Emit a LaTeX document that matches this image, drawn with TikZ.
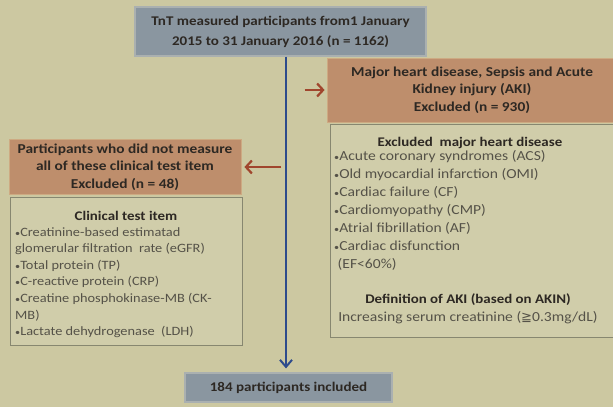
\documentclass[tikz,border=0pt]{standalone}
\usepackage{fontspec}
\setmainfont{Carlito}[FakeStretch=1.13]
\newfontfamily\symfont{DejaVu Sans}
\usetikzlibrary{arrows.meta}
\definecolor{bgkhaki}{RGB}{204,200,161}
\definecolor{slatefill}{RGB}{138,150,160}
\definecolor{slateedge}{RGB}{170,176,176}
\definecolor{tanfill}{RGB}{190,142,108}
\definecolor{tanedge}{RGB}{205,170,130}
\definecolor{listedge}{RGB}{135,135,112}
\definecolor{listfill}{RGB}{208,205,170}
\definecolor{inktext}{RGB}{45,40,35}
\definecolor{greytext}{RGB}{85,82,72}
\definecolor{spineblue}{RGB}{45,75,140}
\definecolor{rustarrow}{RGB}{160,70,45}
\newcommand{\itemdot}{{\fontsize{9}{9}\selectfont•}}
\tikzset{
  slatebox/.style={draw=slateedge, line width=1.2pt, fill=slatefill, text=inktext,
    font=\bfseries\fontsize{13.3}{20}\selectfont, align=center, inner sep=0pt},
  tanbox/.style={draw=tanedge, line width=0.8pt, fill=tanfill, text=inktext,
    font=\bfseries\fontsize{13.6}{17.5}\selectfont, align=center, inner sep=0pt},
  listbox/.style={draw=listedge, line width=0.9pt, fill=listfill, inner sep=0pt},
  listhead/.style={text=inktext, font=\bfseries\fontsize{13.2}{18}\selectfont, inner sep=0pt},
  listbody/.style={text=greytext, font=\fontsize{13.8}{18}\selectfont, align=left, inner sep=0pt, anchor=north west},
  spinearrow/.style={draw=spineblue, line width=2.2pt, -{Straight Barb[length=7pt,width=12pt,line width=2pt]}},
  rustarrowstyle/.style={draw=rustarrow, line width=2.4pt, -{Straight Barb[length=6pt,width=13pt,line width=2.2pt]}}
}
\begin{document}
\begin{tikzpicture}[x=1pt,y=-1pt]
  % canvas
  \fill[bgkhaki] (0,0) rectangle (613,407);
  \useasboundingbox (0,0) rectangle (613,407);

  % main flow boxes
  \node[slatebox, minimum width=291pt, minimum height=49pt] (start) at (280.5,31.5)
    {TnT measured participants from1 January\\2015 to 31 January 2016 (n = 1162)};
  \node[slatebox, minimum width=207pt, minimum height=29pt] (final) at (288.5,387.5)
    {184 participants included};

  % right exclusion
  \node[tanbox, minimum width=290pt, minimum height=64pt] (rexcl) at (472,90)
    {Major heart disease, Sepsis and Acute\\Kidney injury (AKI)\\Excluded (n = 930)};
  \node[listbox, minimum width=287pt, minimum height=213pt] (rlist) at (473.5,230.5) {};
  \node[listhead] (rhead) at (470,143) {Excluded\ \ major heart disease};
  \node[listbody] (ritems) at (334,150)
    {\itemdot Acute coronary syndromes (ACS)\\
     \itemdot Old myocardial infarction (OMI)\\
     \itemdot Cardiac failure (CF)\\
     \itemdot Cardiomyopathy (CMP)\\
     \itemdot Atrial fibrillation (AF)\\
     \itemdot Cardiac disfunction\\
     \ (EF<60\%)};
  \node[listhead] (akihead) at (468,300) {Definition of AKI (based on AKIN)};
  \node[listbody, anchor=center] (akidef) at (468,318)
    {Increasing serum creatinine ({\symfont\fontsize{13}{13}\selectfont ≧}0.3mg/dL)};

  % left exclusion
  \node[tanbox, minimum width=232pt, minimum height=55pt] (lexcl) at (125,167)
    {Participants who did not measure\\all of these clinical test item\\Excluded (n = 48)};
  \node[listbox, minimum width=232pt, minimum height=148pt] (llist) at (126,271) {};
  \node[listhead] (lhead) at (126,216) {Clinical test item};
  \node[listbody, font=\fontsize{12.7}{16.6}\selectfont] (litems) at (15,227)
    {\itemdot Creatinine-based estimatad\\
     glomerular filtration\ \ rate (eGFR)\\
     \itemdot Total protein (TP)\\
     \itemdot C-reactive protein (CRP)\\
     \itemdot Creatine phosphokinase-MB (CK-\\
     MB)\\
     \itemdot Lactate dehydrogenase\ \ (LDH)};

  % connectors
  \coordinate (spine) at (286,0);
  \draw[spinearrow, shorten >=4pt] (start.south -| spine) -- (final.north -| spine);
  \draw[rustarrowstyle] ([xshift=-22pt]rexcl.west) -- ([xshift=-2pt]rexcl.west);
  \draw[rustarrowstyle] ([xshift=40pt]lexcl.east) -- ([xshift=3pt]lexcl.east);
\end{tikzpicture}
\end{document}
